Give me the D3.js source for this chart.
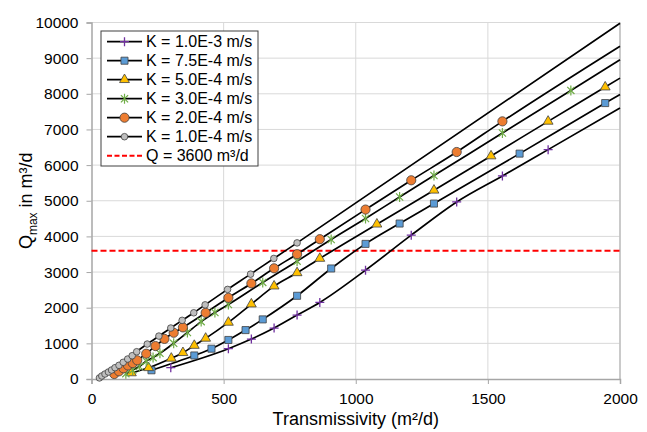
<!DOCTYPE html>
<html lang="en">
<head>
  <meta charset="UTF-8">
  <title>Qmax vs Transmissivity</title>
  <script src="https://d3js.org/d3.v7.min.js"></script>
  <style>
    body { margin: 0; background: #fff; }
    text { font-family: "Liberation Sans", Arial, sans-serif; fill: #000; }
    .grid line { stroke: #d9d9d9; stroke-width: 1; }
  </style>
</head>
<body>
  <div id="chart"></div>

  <script>
    // transmissivity T (m2/d) and Qmax (m3/d) for each conductivity
    const tK1e3 = [300, 518, 605, 691, 778, 864, 1037, 1210, 1382, 1555, 1728];
    const qK1e3 = [317, 850, 1120, 1429, 1793, 2148, 3053, 4034, 4966, 5695, 6434];

    const tK75e4 = [227, 389, 454, 518, 583, 648, 778, 907, 1037, 1166, 1296, 1620, 1944];
    const qK75e4 = [245, 660, 850, 1095, 1372, 1672, 2334, 3100, 3790, 4361, 4921, 6322, 7740];

    const tK5e4 = [151, 216, 302, 346, 389, 432, 518, 605, 691, 778, 864, 1080, 1296, 1512, 1728, 1944];
    const qK5e4 = [170, 315, 580, 737, 940, 1140, 1588, 2101, 2605, 2978, 3381, 4342, 5294, 6255, 7227, 8188];

    const tK3e4 = [130, 156, 181, 207, 233, 259, 311, 363, 415, 467, 518, 648, 778, 907, 1037, 1166, 1296, 1555, 1814];
    const qK3e4 = [150, 250, 350, 500, 600, 720, 1000, 1305, 1610, 1865, 2090, 2709, 3305, 3913, 4501, 5106, 5706, 6899, 8095];

    const tK2e4 = [86, 104, 121, 138, 156, 173, 207, 242, 276, 311, 346, 432, 518, 605, 691, 778, 864, 1037, 1210, 1382, 1555];
    const qK2e4 = [140, 215, 300, 380, 445, 525, 710, 924, 1125, 1297, 1448, 1857, 2277, 2681, 3105, 3501, 3922, 4753, 5574, 6367, 7227];

    const tK1e4 = [30, 39, 51, 64, 76, 89, 104, 120, 137, 154, 171, 211, 255, 300, 343, 387, 430, 515, 602, 690, 778];
    const qK1e4 = [30, 84, 140, 196, 252, 317, 384, 468, 560, 653, 765, 980, 1204, 1430, 1645, 1857, 2080, 2513, 2941, 3381, 3818];

    // line values at the right edge of the chart (T = 2000)
    const tEnd = 2000;
    const qEnd = [7600, 7980, 8440, 8955, 9336, 9980];

    const seriesNames = ["K = 1.0E-3 m/s", "K = 7.5E-4 m/s", "K = 5.0E-4 m/s",
                         "K = 3.0E-4 m/s", "K = 2.0E-4 m/s", "K = 1.0E-4 m/s"];
    const qLimit = 3600;
    const qLimitName = "Q = 3600 m³/d";

    const xTicks = [0, 500, 1000, 1500, 2000];
    const yTicks = [0, 1000, 2000, 3000, 4000, 5000, 6000, 7000, 8000, 9000, 10000];

    const width = 647;
    const height = 432;

    const svg = d3.select("#chart")
      .append("svg")
      .attr("width", width)
      .attr("height", height);

    const x = d3.scaleLinear().domain([0, 2000]).range([91.5, 620]);
    const y = d3.scaleLinear().domain([0, 10000]).range([379, 22.5]);

    // grid
    const grid = svg.append("g").attr("class", "grid");
    grid.selectAll(".gy").data(yTicks.slice(1))
      .enter().append("line")
      .attr("x1", x(0)).attr("x2", x(2000))
      .attr("y1", d => y(d)).attr("y2", d => y(d));
    grid.selectAll(".gx").data(xTicks.slice(1))
      .enter().append("line")
      .attr("y1", y(0)).attr("y2", y(10000))
      .attr("x1", d => x(d)).attr("x2", d => x(d));

    // right / top border of plot area
    svg.append("line")
      .attr("x1", x(2000)).attr("x2", x(2000))
      .attr("y1", y(0)).attr("y2", y(10000))
      .attr("stroke", "#bfbfbf").attr("stroke-width", 1.5);

    // axes
    const yAxis = d3.axisLeft(y).tickValues(yTicks).tickSize(5).tickPadding(8)
      .tickFormat(d3.format("d"));
    const xAxis = d3.axisBottom(x).tickValues(xTicks).tickSize(5).tickPadding(9)
      .tickFormat(d3.format("d"));

    const gy = svg.append("g")
      .attr("transform", `translate(${x(0)},0)`)
      .call(yAxis);
    const gx = svg.append("g")
      .attr("transform", `translate(0,${y(0)})`)
      .call(xAxis);

    [gx, gy].forEach(g => {
      g.select(".domain").attr("stroke", "#a6a6a6").attr("stroke-width", 1.5);
      g.selectAll(".tick line").attr("stroke", "#a6a6a6");
      g.selectAll(".tick text")
        .attr("font-family", '"Liberation Sans", Arial, sans-serif')
        .attr("font-size", 15.5).attr("fill", "#000");
    });

    // axis titles
    svg.append("text")
      .attr("x", x(1000)).attr("y", 425)
      .attr("text-anchor", "middle")
      .attr("font-size", 18)
      .text("Transmissivity (m²/d)");

    const yTitle = svg.append("text")
      .attr("transform", `translate(31.5,${(y(0) + y(10000)) / 2}) rotate(-90)`)
      .attr("text-anchor", "middle")
      .attr("font-size", 18);
    yTitle.append("tspan").text("Q");
    yTitle.append("tspan").attr("font-size", 12).attr("dy", 5).text("max");
    yTitle.append("tspan").attr("dy", -5).text(" in m³/d");

    // limit line
    svg.append("line")
      .attr("x1", x(0)).attr("x2", x(2000))
      .attr("y1", y(qLimit)).attr("y2", y(qLimit))
      .attr("stroke", "#ff0000").attr("stroke-width", 2)
      .attr("stroke-dasharray", "6,3");

    // markers
    const plusPath = s => `M${-s},0H${s}M0,${-s}V${s}`;
    const starPath = s => {
      const a = s * 0.72;
      return `M${-a},${-a}L${a},${a}M${-a},${a}L${a},${-a}M0,${-s}V${s}`;
    };
    const markers = [
      { draw: g => g.append("path").attr("d", plusPath(4.5)).attr("stroke", "#7030a0").attr("stroke-width", 1.3).attr("fill", "none") },
      { draw: g => g.append("path").attr("d", d3.symbol(d3.symbolSquare, 50)()).attr("fill", "#5b9bd5").attr("stroke", "#404040").attr("stroke-width", 0.8) },
      { draw: g => g.append("path").attr("d", d3.symbol(d3.symbolTriangle, 42)()).attr("fill", "#ffc000").attr("stroke", "#404040").attr("stroke-width", 0.8) },
      { draw: g => g.append("path").attr("d", starPath(5)).attr("stroke", "#70ad47").attr("stroke-width", 1.2).attr("fill", "none") },
      { draw: g => g.append("circle").attr("r", 4.6).attr("fill", "#ed7d31").attr("stroke", "#404040").attr("stroke-width", 0.8) },
      { draw: g => g.append("circle").attr("r", 3.3).attr("fill", "#bfbfbf").attr("stroke", "#404040").attr("stroke-width", 0.8) }
    ];

    const series = [
      [tK1e3, qK1e3], [tK75e4, qK75e4], [tK5e4, qK5e4],
      [tK3e4, qK3e4], [tK2e4, qK2e4], [tK1e4, qK1e4]
    ].map(([t, q], i) => ({
      name: seriesNames[i],
      points: t.map((v, j) => ({ t: v, q: q[j] })),
      end: { t: tEnd, q: qEnd[i] }
    }));

    const line = d3.line()
      .x(d => x(d.t))
      .y(d => y(d.q))
      .curve(d3.curveMonotoneX);

    svg.selectAll(".series-line")
      .data(series)
      .enter().append("path")
      .attr("class", "series-line")
      .attr("fill", "none")
      .attr("stroke", "#000")
      .attr("stroke-width", 1.7)
      .attr("d", d => line(d.points.concat([d.end])));

    series.forEach((s, i) => {
      svg.append("g").selectAll("g")
        .data(s.points)
        .enter().append("g")
        .attr("transform", d => `translate(${x(d.t)},${y(d.q)})`)
        .each(function () { markers[i].draw(d3.select(this)); });
    });

    // legend
    const legend = svg.append("g");
    legend.append("rect")
      .attr("x", 101).attr("y", 31)
      .attr("width", 157).attr("height", 135)
      .attr("fill", "#fff").attr("stroke", "#404040").attr("stroke-width", 1);

    const rowY = i => 41.7 + i * 19;
    series.forEach((s, i) => {
      const row = legend.append("g").attr("transform", `translate(0,${rowY(i)})`);
      row.append("line").attr("x1", 107).attr("x2", 142)
        .attr("stroke", "#000").attr("stroke-width", 1.7);
      markers[i].draw(row.append("g").attr("transform", "translate(124.5,0)"));
      row.append("text").attr("x", 146).attr("dy", "0.36em")
        .attr("font-size", 16).text(s.name);
    });
    const limitRow = legend.append("g").attr("transform", `translate(0,${rowY(6)})`);
    limitRow.append("line").attr("x1", 107).attr("x2", 142)
      .attr("stroke", "#ff0000").attr("stroke-width", 2).attr("stroke-dasharray", "5,2.5");
    limitRow.append("text").attr("x", 146).attr("dy", "0.36em")
      .attr("font-size", 16).text(qLimitName);
  </script>
</body>
</html>
